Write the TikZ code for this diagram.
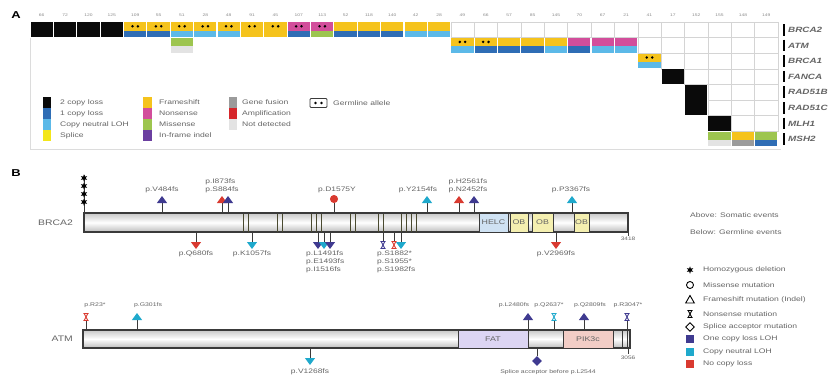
\documentclass[tikz,border=0pt]{standalone}
\usepackage{fontspec}
\setmainfont{Liberation Sans}[FakeStretch=1.3]
\usetikzlibrary{arrows.meta,shapes.geometric}
\definecolor{cnlosstwo}{HTML}{0A0A0A}
\definecolor{cnlossone}{HTML}{2F6DB5}
\definecolor{cnloh}{HTML}{5CB9E8}
\definecolor{splice}{HTML}{F3E61A}
\definecolor{fshift}{HTML}{F5C31C}
\definecolor{nonsense}{HTML}{D24E9B}
\definecolor{missense}{HTML}{9DC54F}
\definecolor{indel}{HTML}{6B3FA0}
\definecolor{fusion}{HTML}{9B9B9B}
\definecolor{amplif}{HTML}{D6262B}
\definecolor{notdet}{HTML}{E3E3E3}
\definecolor{gridline}{HTML}{D4D4D4}
\definecolor{framegray}{HTML}{DCDCDC}
\definecolor{txtgray}{HTML}{646464}
\definecolor{numgray}{HTML}{8A8A8A}
\definecolor{onecopy}{HTML}{3F3A90}
\definecolor{neutral}{HTML}{1FA9CC}
\definecolor{nocopy}{HTML}{D93A30}
\definecolor{barline}{HTML}{3A3A3A}
\definecolor{brcline}{HTML}{4A4A30}
\definecolor{helcfill}{HTML}{CFE2F3}
\definecolor{obfill}{HTML}{F4EFB0}
\definecolor{fatfill}{HTML}{DCD5F3}
\definecolor{pikfill}{HTML}{F2CDC6}
\tikzset{
  panel/.style={font=\fontsize{10}{12}\selectfont\bfseries, inner sep=0pt},
  collbl/.style={font=\fontsize{3.8}{4.5}\selectfont, text=numgray, inner sep=0pt},
  genelbl/.style={font=\fontsize{7.6}{8}\selectfont\itshape\bfseries, text=txtgray, anchor=west, inner sep=0pt},
  leglbl/.style={font=\fontsize{6.6}{7}\selectfont, text=txtgray, anchor=west, inner sep=0pt},
  mutlbl/.style={font=\fontsize{6.5}{7.8}\selectfont, text=txtgray, inner sep=0pt, align=left},
  smlbl/.style={mutlbl, font=\fontsize{5.3}{6}\selectfont},
  protlbl/.style={font=\fontsize{8}{9}\selectfont, text=txtgray, anchor=east, inner sep=0pt},
  lenlbl/.style={font=\fontsize{5}{5.5}\selectfont, text=txtgray, inner sep=0pt},
  domtxt/.style={font=\fontsize{6.8}{7}\selectfont, text=txtgray},
  blank/.style={draw=gridline, line width=.5pt, fill=white},
  aframe/.style={draw=framegray, line width=1pt},
  protbar/.style={draw=barline, line width=1.1pt, top color=black!22, bottom color=black!26, middle color=white},
  dombox/.style={draw=barline, line width=.9pt},
  brc/.style={draw=brcline, line width=.7pt},
  stemline/.style={draw=barline, line width=.9pt},
  fs/.style={stemline, -{Triangle[width=10pt,length=7pt,color=#1]}},
  ms/.style={stemline, -{Circle[length=8pt,color=#1]}},
  hdel/.style={star, star points=6, star point ratio=2.3, fill=black, inner sep=0pt, minimum size=7.5pt},
  splc/.style={diamond, fill=#1, inner sep=0pt, minimum size=10pt},
  pics/nsx/.style={code={
    \draw[color=#1, line width=.9pt] (-2.6,-3.5) -- (2.6,-3.5) (-2.6,3.5) -- (2.6,3.5)
      (-1.8,-3.5) -- (1.8,3.5) (1.8,-3.5) -- (-1.8,3.5);}}
}
\newcommand{\cellx}[1]{30+(#1-1)*23.375}
\newcommand{\celly}[1]{22+(#1-1)*15.6}
\newcommand{\altcell}[4]{%
  \fill[fill=#3] ({\cellx{#1}+.6},{\celly{#2}+.4}) rectangle ++(22.2,8.2);
  \fill[fill=#4] ({\cellx{#1}+.6},{\celly{#2}+8.6}) rectangle ++(22.2,6.6);}
\newcommand{\fullcell}[3]{%
  \fill[fill=#3] ({\cellx{#1}+.6},{\celly{#2}+.4}) rectangle ++(22.2,14.8);}
\newcommand{\germ}[2]{%
  \fill[black] ({\cellx{#1}+9},{\celly{#2}+4.3}) circle (1.4) ({\cellx{#1}+14.4},{\celly{#2}+4.3}) circle (1.4);}
\newcommand{\blankcell}[2]{%
  \draw[blank] ({\cellx{#1}},{\celly{#2}}) rectangle ++(23.375,15.6);}
\begin{document}
\begin{tikzpicture}[x=1pt,y=-1pt]
  \useasboundingbox (0,0) rectangle (829,386);

  % ---------------- panel A: alteration grid
  \node[panel] (pA) at (16,15) {A};
  \foreach \n [count=\c] in {66,72,120,125,109,55,51,28,48,91,45,107,113,52,118,140,42,28,49,66,57,85,145,70,67,21,41,17,152,155,148,149}
    \node[collbl] (col\c) at ({30+(\c-.5)*23.375},15) {\n};
  \foreach \g [count=\r] in {BRCA2,ATM,BRCA1,FANCA,RAD51B,RAD51C,MLH1,MSH2} {
    \draw[line width=1.6pt] (784,{\celly{\r}+2}) -- ++(0,11.6);
    \node[genelbl] (gene\r) at (788,{\celly{\r}+7.8}) {\g};
  }
  \draw[aframe] (30,37.8) -- (30,149) -- (781,149);

  % empty cells of the staircase
  \foreach \r/\a in {1/19,2/27,3/28,4/29,5/30,6/30,7/31}
    \foreach \c in {\a,...,32} \blankcell{\c}{\r};

  % BRCA2
  \foreach \c in {1,...,4} \fullcell{\c}{1}{cnlosstwo};
  \foreach \c/\ctop/\cbot in {5/fshift/cnlossone,6/fshift/cnlossone,7/fshift/cnloh,8/fshift/cnloh,
      9/fshift/cnloh,10/fshift/fshift,11/fshift/fshift,12/nonsense/cnlossone,13/nonsense/missense,
      14/fshift/cnlossone,15/fshift/cnlossone,16/fshift/cnlossone,17/fshift/cnloh,18/fshift/cnloh}
    \altcell{\c}{1}{\ctop}{\cbot};
  \foreach \c in {5,...,13} \germ{\c}{1};

  % ATM
  \altcell{7}{2}{missense}{notdet};
  \foreach \c/\ctop/\cbot in {19/fshift/cnloh,20/fshift/cnlossone,21/fshift/cnlossone,22/fshift/cnlossone,
      23/fshift/cnloh,24/nonsense/cnlossone,25/nonsense/cnloh,26/nonsense/cnloh}
    \altcell{\c}{2}{\ctop}{\cbot};
  \germ{19}{2} \germ{20}{2}

  % BRCA1 .. MSH2
  \altcell{27}{3}{fshift}{cnloh} \germ{27}{3}
  \fullcell{28}{4}{cnlosstwo}
  \fullcell{29}{5}{cnlosstwo}
  \fullcell{29}{6}{cnlosstwo}
  \fullcell{30}{7}{cnlosstwo}
  \altcell{30}{8}{missense}{notdet}
  \altcell{31}{8}{fshift}{fusion}
  \altcell{32}{8}{missense}{cnlossone}

  % legend A
  \foreach \col/\lbl [count=\i] in {cnlosstwo/2 copy loss,cnlossone/1 copy loss,cnloh/Copy neutral LOH,splice/Splice} {
    \fill[fill=\col] (43,{97+(\i-1)*11}) rectangle ++(8,11);
    \node[leglbl] (lega\i) at (60,{102.5+(\i-1)*11}) {\lbl};
  }
  \foreach \col/\lbl [count=\i] in {fshift/Frameshift,nonsense/Nonsense,missense/Missense,indel/In-frame indel} {
    \fill[fill=\col] (143,{97+(\i-1)*11}) rectangle ++(9,11);
    \node[leglbl] (legb\i) at (159,{102.5+(\i-1)*11}) {\lbl};
  }
  \foreach \col/\lbl [count=\i] in {fusion/Gene fusion,amplif/Amplification,notdet/Not detected} {
    \fill[fill=\col] (229,{97+(\i-1)*11}) rectangle ++(8,11);
    \node[leglbl] (legc\i) at (242,{102.5+(\i-1)*11}) {\lbl};
  }
  \draw[barline, line width=.8pt, rounded corners=1pt] (310,98.5) rectangle (327,107.5);
  \fill[black] (315.5,103) circle (1.4) (321.5,103) circle (1.4);
  \node[leglbl] (germ) at (333,103) {Germline allele};

  % ---------------- panel B: BRCA2
  \node[panel] (pB) at (16,173) {B};
  \node[protlbl] (brca2) at (73,222.5) {BRCA2};
  \draw[protbar] (84,213) rectangle (628,232);
  \foreach \x in {243,248,277,282,311,316,321,350,355,378,383,401,406,411,416}
    \draw[brc] (\x,213.5) -- (\x,231.5);
  \draw[dombox, fill=helcfill] (479,213) rectangle node[domtxt] {HELC} (508,232);
  \draw[dombox, fill=obfill] (510,213) rectangle node[domtxt] {OB} (528,232);
  \draw[dombox, fill=obfill] (532,213) rectangle node[domtxt] {OB} (553,232);
  \draw[dombox, fill=obfill] (574,213) rectangle node[domtxt] {OB} (589,232);
  \draw[stemline, line width=.6pt] (628,232) -- (628,236);
  \node[lenlbl, anchor=north] (len2) at (628,237) {3418};

  % somatic (above)
  \draw[stemline] (84,213) -- (84,175);
  \foreach \y in {178,186,194,202} \node[hdel] at (84,\y) {};
  \draw[fs=onecopy] (162,213) -- (162,196);
  \draw[fs=nocopy] (222,213) -- (222,196);
  \draw[fs=onecopy] (228,213) -- (228,196);
  \draw[ms=nocopy] (334,213) -- (334,195);
  \draw[fs=neutral] (427,213) -- (427,196);
  \draw[fs=nocopy] (459,213) -- (459,196);
  \draw[fs=onecopy] (474,213) -- (474,196);
  \draw[fs=neutral] (572,213) -- (572,196);
  \node[mutlbl] (m1) at (162,190) {p.V484fs};
  \node[mutlbl, anchor=south] (m2) at (222,193) {p.I873fs\\p.S884fs};
  \node[mutlbl] (m3) at (337,190) {p.D1575Y};
  \node[mutlbl] (m4) at (418,190) {p.Y2154fs};
  \node[mutlbl, anchor=south] (m5) at (468,193) {p.H2561fs\\p.N2452fs};
  \node[mutlbl] (m6) at (571,190) {p.P3367fs};

  % germline (below)
  \draw[fs=nocopy] (196,232) -- (196,249);
  \draw[fs=neutral] (252,232) -- (252,249);
  \draw[fs=onecopy] (318,232) -- (318,249);
  \draw[fs=neutral] (324,232) -- (324,249);
  \draw[fs=onecopy] (330,232) -- (330,249);
  \draw[stemline] (383,232) -- (383,241);
  \pic at (383,245) {nsx=onecopy};
  \draw[stemline] (394,232) -- (394,241);
  \pic at (394,245) {nsx=nocopy};
  \draw[fs=neutral] (401,232) -- (401,249);
  \draw[fs=nocopy] (556,232) -- (556,249);
  \node[mutlbl, anchor=north] (g1) at (196,251) {p.Q680fs};
  \node[mutlbl, anchor=north] (g2) at (252,251) {p.K1057fs};
  \node[mutlbl, anchor=north west] (g3) at (306,251) {p.L1491fs\\p.E1493fs\\p.I1516fs};
  \node[mutlbl, anchor=north west] (g4) at (377,251) {p.S1882*\\p.S1955*\\p.S1982fs};
  \node[mutlbl, anchor=north] (g5) at (556,251) {p.V2969fs};

  \node[leglbl] (above) at (690,215) {Above: Somatic events};
  \node[leglbl] (below) at (690,232) {Below: Germline events};

  % ---------------- panel B: ATM
  \node[protlbl] (atm) at (73,339) {ATM};
  \draw[protbar] (83,330) rectangle (630,348);
  \draw[dombox, fill=fatfill] (458,330) rectangle node[domtxt] {FAT} (528,348);
  \draw[dombox, fill=pikfill] (563,330) rectangle node[domtxt] {PIK3c} (613,348);
  \draw[dombox] (622,330) -- (622,348);
  \draw[dombox] (627,330) -- (627,348);
  \draw[stemline, line width=.6pt] (628,348) -- (628,354);
  \node[lenlbl, anchor=north] (len1) at (628,356) {3056};

  \draw[stemline] (86,330) -- (86,321);
  \pic at (86,317) {nsx=nocopy};
  \draw[fs=neutral] (137,330) -- (137,313);
  \draw[fs=onecopy] (528,330) -- (528,313);
  \draw[stemline] (554,330) -- (554,321);
  \pic at (554,317) {nsx=neutral};
  \draw[fs=onecopy] (584,330) -- (584,313);
  \draw[stemline] (627,330) -- (627,321);
  \pic at (627,317) {nsx=onecopy};
  \node[smlbl] (a1) at (95,305) {p.R23*};
  \node[smlbl] (a2) at (148,305) {p.G301fs};
  \node[smlbl] (a3) at (514,305) {p.L2480fs};
  \node[smlbl] (a4) at (549,305) {p.Q2637*};
  \node[smlbl] (a5) at (590,305) {p.Q2809fs};
  \node[smlbl] (a6) at (628,305) {p.R3047*};

  \draw[fs=neutral] (310,348) -- (310,365);
  \node[splc=onecopy] (spl) at (537,361) {};
  \draw[stemline] (537,348) -- (spl);
  \node[mutlbl] (a7) at (310,372) {p.V1268fs};
  \node[smlbl] (a8) at (548,372) {Splice acceptor before p.L2544};

  % legend B
  \node[hdel] (s1) at (690,270) {};
  \node[circle, draw=black, line width=.9pt, inner sep=0pt, minimum size=7pt] (s2) at (690,285) {};
  \node[regular polygon, regular polygon sides=3, draw=black, line width=.9pt, inner sep=0pt, minimum size=10pt] (s3) at (690,300.5) {};
  \pic at (690,314) {nsx=black};
  \node[diamond, draw=black, line width=.9pt, inner sep=0pt, minimum size=9pt] (s5) at (690,327) {};
  \fill[onecopy] (686,335) rectangle (694,343);
  \fill[neutral] (686,348) rectangle (694,356);
  \fill[nocopy] (686,360) rectangle (694,368);
  \foreach \lbl/\y [count=\i] in {Homozygous deletion/270,Missense mutation/285,Frameshift mutation (Indel)/300,
      Nonsense mutation/314,Splice acceptor mutation/327,One copy loss LOH/339,Copy neutral LOH/352,No copy loss/364}
    \node[leglbl] (legd\i) at (703,\y) {\lbl};
\end{tikzpicture}
\end{document}
